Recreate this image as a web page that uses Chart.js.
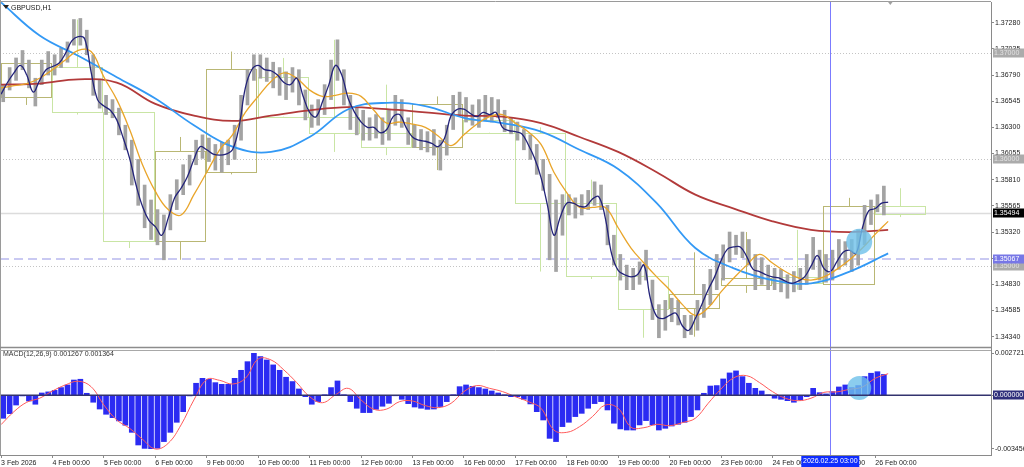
<!DOCTYPE html>
<html lang="en">
  <head>
    <meta charset="utf-8">
    <title>GBPUSD,H1</title>
    <style>
      html, body { margin: 0; padding: 0; background: #fff; }
      #wrap { width: 1024px; height: 467px; }
    </style>
  </head>
  <body>
    <div id="wrap">
      <canvas id="myChart" width="1024" height="467"></canvas>
    </div>

    <script src="https://cdn.jsdelivr.net/npm/chart.js"></script>

    <script>
      // trading-hour index: 0 = 3 Feb 00:00, 24 bars per day
      const dayLabels = ["3 Feb 2026", "4 Feb 00:00", "5 Feb 00:00", "6 Feb 00:00", "9 Feb 00:00", "10 Feb 00:00",
        "11 Feb 00:00", "12 Feb 00:00", "13 Feb 00:00", "16 Feb 00:00", "17 Feb 00:00", "18 Feb 00:00",
        "19 Feb 00:00", "20 Feb 00:00", "23 Feb 00:00", "24 Feb 00:00", "25 Feb 00:00", "26 Feb 00:00"];

      const priceTicks = [1.37280, 1.37035, 1.36790, 1.36545, 1.36300, 1.36055, 1.35810,
        1.35565, 1.35320, 1.35075, 1.34830, 1.34585, 1.34340];
      const macdTicks = [0.002721, 0, -0.003456];

      // price range of each 3-hour block
      const barHigh = [
        1.3670, 1.3686, 1.3695, 1.3702, 1.3693, 1.3676, 1.3693, 1.3701,
        1.3698, 1.3704, 1.3710, 1.3731, 1.3732, 1.3721, 1.3698, 1.3674,
        1.3660, 1.3656, 1.3648, 1.3632, 1.3618, 1.3600, 1.3576, 1.3562,
        1.3553, 1.3548, 1.3567, 1.3581, 1.3595, 1.3604, 1.3618, 1.3623,
        1.3620, 1.3614, 1.3616, 1.3618, 1.3632, 1.3660, 1.3684, 1.3698,
        1.3698, 1.3695, 1.3691, 1.3686, 1.3682, 1.3686, 1.3684, 1.3665,
        1.3651, 1.3656, 1.3670, 1.3693, 1.3712, 1.3684, 1.3660, 1.3648,
        1.3646, 1.3639, 1.3642, 1.3639, 1.3646, 1.3660, 1.3656, 1.3639,
        1.3632, 1.3628, 1.3626, 1.3628, 1.3618, 1.3632, 1.3660, 1.3663,
        1.3658, 1.3651, 1.3656, 1.3660, 1.3658, 1.3656, 1.3646, 1.3639,
        1.3635, 1.3628, 1.3623, 1.3614, 1.3600, 1.3586, 1.3562, 1.3567,
        1.3567, 1.3564, 1.3567, 1.3571, 1.3579, 1.3576, 1.3557, 1.3529,
        1.3511, 1.3501, 1.3498, 1.3504, 1.3515, 1.3487, 1.3464, 1.3468,
        1.3470, 1.3468, 1.3454, 1.3454, 1.3468, 1.3483, 1.3497, 1.3511,
        1.3520, 1.3532, 1.3529, 1.3532, 1.3525, 1.3511, 1.3508, 1.3501,
        1.3498, 1.3497, 1.3492, 1.3495, 1.3498, 1.3511, 1.3527, 1.3515,
        1.3511, 1.3515, 1.3525, 1.3523, 1.3525, 1.3534, 1.3557, 1.3562,
        1.3567, 1.3575
      ];
      const barLow = [
        1.3654, 1.3665, 1.3674, 1.3684, 1.3667, 1.3650, 1.3670, 1.3679,
        1.3679, 1.3686, 1.3691, 1.3707, 1.3707, 1.3698, 1.3660, 1.3648,
        1.3642, 1.3639, 1.3623, 1.3609, 1.3576, 1.3557, 1.3536, 1.3525,
        1.3520, 1.3506, 1.3534, 1.3553, 1.3567, 1.3576, 1.3595, 1.3601,
        1.3598, 1.3590, 1.3588, 1.3595, 1.3600, 1.3618, 1.3651, 1.3674,
        1.3676, 1.3673, 1.3667, 1.3660, 1.3656, 1.3663, 1.3651, 1.3637,
        1.3630, 1.3632, 1.3642, 1.3656, 1.3674, 1.3651, 1.3628, 1.3623,
        1.3618, 1.3618, 1.3620, 1.3614, 1.3618, 1.3632, 1.3630, 1.3614,
        1.3611, 1.3609, 1.3607, 1.3604, 1.3590, 1.3604, 1.3628, 1.3642,
        1.3635, 1.3632, 1.3630, 1.3637, 1.3635, 1.3639, 1.3626, 1.3624,
        1.3618, 1.3609, 1.3600, 1.3586, 1.3571, 1.3506, 1.3495, 1.3529,
        1.3548, 1.3545, 1.3548, 1.3553, 1.3557, 1.3553, 1.3520, 1.3501,
        1.3487, 1.3478, 1.3478, 1.3483, 1.3487, 1.3450, 1.3433, 1.3440,
        1.3448, 1.3445, 1.3433, 1.3436, 1.3440, 1.3452, 1.3464, 1.3478,
        1.3487, 1.3504, 1.3511, 1.3508, 1.3501, 1.3478, 1.3483, 1.3478,
        1.3478, 1.3476, 1.3470, 1.3476, 1.3478, 1.3483, 1.3497, 1.3487,
        1.3485, 1.3487, 1.3497, 1.3501, 1.3495, 1.3501, 1.3520, 1.3539,
        1.3551, 1.3548
      ];

      // fast MA, every 3 hours
      const fastMA = [
        1.3661, 1.3672, 1.3681, 1.3688, 1.3679, 1.3663, 1.3674, 1.3684,
        1.3687, 1.3690, 1.3699, 1.3711, 1.3715, 1.3713, 1.3682, 1.3656,
        1.3650, 1.3646, 1.3637, 1.3620, 1.3601, 1.3576, 1.3556, 1.3543,
        1.3537, 1.3529, 1.3545, 1.3564, 1.3573, 1.3584, 1.3600, 1.3612,
        1.3609, 1.3605, 1.3604, 1.3605, 1.3609, 1.3630, 1.3667, 1.3684,
        1.3688, 1.3684, 1.3683, 1.3679, 1.3672, 1.3670, 1.3676, 1.3659,
        1.3644, 1.3640, 1.3654, 1.3670, 1.3688, 1.3679, 1.3657, 1.3644,
        1.3635, 1.3630, 1.3630, 1.3625, 1.3628, 1.3640, 1.3642, 1.3630,
        1.3621, 1.3618, 1.3617, 1.3615, 1.3612, 1.3620, 1.3641, 1.3647,
        1.3647, 1.3643, 1.3640, 1.3644, 1.3642, 1.3644, 1.3630, 1.3627,
        1.3626, 1.3624, 1.3614, 1.3601, 1.3583, 1.3557, 1.3529, 1.3546,
        1.3559, 1.3559, 1.3556, 1.3556, 1.3563, 1.3565, 1.3545, 1.3511,
        1.3496, 1.3492, 1.3490, 1.3492, 1.3501, 1.3470, 1.3453, 1.3451,
        1.3454, 1.3456, 1.3444, 1.3440, 1.3451, 1.3464, 1.3478, 1.3490,
        1.3505, 1.3516, 1.3518, 1.3518, 1.3509, 1.3497, 1.3495, 1.3492,
        1.3490, 1.3489, 1.3486, 1.3484, 1.3486, 1.3490, 1.3500, 1.3510,
        1.3498, 1.3495, 1.3504, 1.3513, 1.3515, 1.3512, 1.3536, 1.3552,
        1.3554, 1.3559, 1.3560
      ];

      // orange MA, every 6 hours
      const midMA = [
        1.3667, 1.3669, 1.3671, 1.3676, 1.3684, 1.3693, 1.3702, 1.3701,
        1.3677, 1.3656, 1.3628, 1.3595, 1.3570, 1.3553, 1.3548, 1.3567,
        1.3588, 1.3609, 1.3623, 1.3644, 1.3659, 1.3673, 1.3681, 1.3676,
        1.3665, 1.3659, 1.3660, 1.3662, 1.3659, 1.3646, 1.3634, 1.3635,
        1.3633, 1.3630, 1.3622, 1.3613, 1.3623, 1.3633, 1.3640, 1.3642,
        1.3634, 1.3626, 1.3614, 1.3588, 1.3569, 1.3555, 1.3555, 1.3555,
        1.3536, 1.3517, 1.3503, 1.3490, 1.3478, 1.3464, 1.3454, 1.3461,
        1.3476, 1.3489, 1.3501, 1.3511, 1.3503, 1.3495, 1.3489, 1.3487,
        1.3490, 1.3497, 1.3506, 1.3517, 1.3530, 1.3542
      ];

      // slow MAs, every 18 hours
      const blueMA = [1.3747, 1.3716, 1.3697, 1.3677, 1.3657, 1.3632, 1.3612, 1.3607, 1.3621, 1.3647, 1.3653, 1.3650,
        1.3639, 1.3634, 1.3626, 1.3609, 1.3591, 1.3559, 1.3517, 1.3498, 1.3487, 1.3484, 1.3495, 1.3512];
      const redMA = [1.3670, 1.3671, 1.3675, 1.3672, 1.3652, 1.3641, 1.3636, 1.3641, 1.3646, 1.3649, 1.3647, 1.3644,
        1.3641, 1.3640, 1.3634, 1.3621, 1.3607, 1.3588, 1.3567, 1.3554, 1.3542, 1.3534, 1.3532, 1.3534];

      // MACD histogram, every 3 hours
      const macdHist = [
        -0.00149, -0.00119, -0.00063, -0.00004, -0.00037, -0.00058, 0.00015, 0.00022,
        0.00032, 0.00050, 0.00067, 0.00099, 0.00104, 0.00013, -0.00045, -0.00089,
        -0.00123, -0.00145, -0.00166, -0.00194, -0.00240, -0.00322, -0.00344, -0.00346,
        -0.00343, -0.00300, -0.00240, -0.00175, -0.00106, -0.00004, 0.00078, 0.00110,
        0.00104, 0.00082, 0.00071, 0.00071, 0.00110, 0.00162, 0.00218, 0.00272,
        0.00251, 0.00229, 0.00197, 0.00162, 0.00117, 0.00089, 0.00041, -0.00009,
        -0.00058, -0.00041, 0.00002, 0.00050, 0.00093, 0.00002, -0.00041, -0.00084,
        -0.00112, -0.00112, -0.00091, -0.00071, -0.00052, -0.00002, -0.00026, -0.00054,
        -0.00076, -0.00084, -0.00091, -0.00089, -0.00073, -0.00041, 0.00002, 0.00056,
        0.00067, 0.00058, 0.00050, 0.00041, 0.00028, 0.00015, 0.00002, -0.00009,
        -0.00009, -0.00026, -0.00056, -0.00106, -0.00160, -0.00279, -0.00300, -0.00203,
        -0.00175, -0.00138, -0.00117, -0.00084, -0.00054, -0.00041, -0.00095, -0.00181,
        -0.00218, -0.00225, -0.00225, -0.00192, -0.00164, -0.00192, -0.00225, -0.00214,
        -0.00199, -0.00188, -0.00175, -0.00138, -0.00095, 0.00013, 0.00060, 0.00063,
        0.00106, 0.00145, 0.00158, 0.00121, 0.00078, 0.00045, 0.00028, 0.00002,
        -0.00019, -0.00026, -0.00035, -0.00045, -0.00030, -0.00009, 0.00045, 0.00017,
        0.00009, 0.00024, 0.00054, 0.00067, 0.00050, 0.00063, 0.00121, 0.00143,
        0.00153, 0.00135
      ];
      // MACD signal, every 6 hours
      const macdSignal = [
        -0.00190, -0.00106, -0.00045, -0.00019, 0.00028, 0.00067, 0.00091, 0.00056,
        -0.00063, -0.00160, -0.00214, -0.00285, -0.00348, -0.00311, -0.00192, -0.00030,
        0.00102, 0.00097, 0.00073, 0.00110, 0.00235, 0.00229, 0.00164, 0.00082,
        -0.00009, -0.00048, 0.00002, 0.00045, -0.00030, -0.00091, -0.00089, -0.00041,
        -0.00037, -0.00067, -0.00080, -0.00052, 0.00024, 0.00063, 0.00045, 0.00024,
        -0.00009, -0.00041, -0.00084, -0.00225, -0.00240, -0.00203, -0.00138, -0.00063,
        -0.00084, -0.00207, -0.00210, -0.00188, -0.00197, -0.00177, -0.00149, -0.00052,
        0.00041, 0.00114, 0.00127, 0.00082, 0.00024, -0.00019, -0.00035, -0.00019,
        0.00019, 0.00022, 0.00039, 0.00054, 0.00110, 0.00140
      ];
      const macdMainNow = 0.001267;
      const macdSignalNow = 0.001364;

      // daily candles drawn as boxes
      const dayOpen = [1.3658, 1.3687, 1.3644, 1.3524, 1.3588, 1.3677, 1.3640, 1.3625, 1.3612,
        1.3637, 1.3625, 1.3559, 1.3491, 1.3461, 1.3482, 1.3490, 1.3483, 1.3556];
      const dayClose = [1.3690, 1.3644, 1.3524, 1.3608, 1.3685, 1.3640, 1.3625, 1.3612, 1.3652,
        1.3625, 1.3559, 1.3491, 1.3460, 1.3474, 1.3489, 1.3484, 1.3556, 1.3549];
      const dayHigh = [1.3690, 1.3731, 1.3644, 1.3621, 1.3701, 1.3695, 1.3712, 1.3670, 1.3659,
        1.3637, 1.3630, 1.3581, 1.3491, 1.3513, 1.3532, 1.3534, 1.3564, 1.3573];
      const dayLow = [1.3651, 1.3642, 1.3517, 1.3506, 1.3586, 1.3640, 1.3607, 1.3604, 1.3590,
        1.3625, 1.3495, 1.3488, 1.3433, 1.3434, 1.3475, 1.3478, 1.3483, 1.3546];

      const roundLevels = [1.37, 1.36, 1.35];
      const lastPrice = 1.35494;
      const alertLevel = 1.35067;
      const cursorHour = 387;
      const cursorLabel = "2026.02.25 03:00";
      const shiftHour = 415;
      const highlight = { hour: 400.5, price: 1.3523, macd: 0.00047 };

      const FONT = { family: "Liberation Sans", size: 7 };

      const xyEvery = (arr, step, off) => arr.map((v, i) => ({ x: i * step + off, y: v }));
      const noPad = (w) => (s) => {
        if (w) s.width = w; else s.height = 12;
        s.paddingTop = 0; s.paddingBottom = 0; s.paddingLeft = 0; s.paddingRight = 0;
      };

      const mt4Plugin = {
        id: "mt4",
        beforeDatasetsDraw(chart) {
          const { ctx, scales: { x, y } } = chart;
          ctx.save();
          ctx.beginPath();
          ctx.rect(x.left, y.top, x.right - x.left, y.bottom - y.top);
          ctx.clip();
          // round price levels
          ctx.strokeStyle = "#c4c4c4";
          ctx.lineWidth = 1;
          ctx.setLineDash([1, 2]);
          roundLevels.forEach((v) => {
            const py = Math.round(y.getPixelForValue(v)) + 0.5;
            ctx.beginPath(); ctx.moveTo(x.left, py); ctx.lineTo(x.right, py); ctx.stroke();
          });
          // last price line
          ctx.setLineDash([]);
          ctx.strokeStyle = "#dcdcdc";
          ctx.lineWidth = 1.5;
          let py = y.getPixelForValue(lastPrice);
          ctx.beginPath(); ctx.moveTo(x.left, py); ctx.lineTo(x.right, py); ctx.stroke();
          // alert line
          ctx.strokeStyle = "#c9c9f2";
          ctx.lineWidth = 2;
          ctx.setLineDash([9, 5]);
          py = y.getPixelForValue(alertLevel);
          ctx.beginPath(); ctx.moveTo(x.left, py); ctx.lineTo(x.right, py); ctx.stroke();
          ctx.setLineDash([]);
          // daily boxes
          ctx.lineWidth = 1;
          dayOpen.forEach((o, d) => {
            const c = dayClose[d];
            ctx.strokeStyle = c >= o ? "#b9b774" : "#c9e5a4";
            const x0 = Math.round(x.getPixelForValue(d * 24 - 0.2)) + 0.5;
            const x1 = Math.round(x.getPixelForValue(d * 24 + 23.2)) + 0.5;
            const xm = Math.round(x.getPixelForValue(d * 24 + 11.5)) + 0.5;
            const top = Math.round(y.getPixelForValue(Math.max(o, c))) + 0.5;
            const bot = Math.round(y.getPixelForValue(Math.min(o, c))) + 0.5;
            ctx.strokeRect(x0, top, x1 - x0, bot - top);
            ctx.beginPath();
            ctx.moveTo(xm, y.getPixelForValue(dayHigh[d])); ctx.lineTo(xm, top);
            ctx.moveTo(xm, bot); ctx.lineTo(xm, y.getPixelForValue(dayLow[d]));
            ctx.stroke();
          });
          ctx.restore();
        },
        afterDatasetsDraw(chart) {
          const { ctx, chartArea: ca, scales: { x, m } } = chart;
          ctx.save();
          // MACD zero line
          const zy = m.getPixelForValue(0);
          ctx.strokeStyle = "#33336e";
          ctx.lineWidth = 1.5;
          ctx.beginPath(); ctx.moveTo(x.left, zy); ctx.lineTo(x.right, zy); ctx.stroke();
          // crosshair time line
          const cx = Math.round(x.getPixelForValue(cursorHour)) + 0.5;
          ctx.strokeStyle = "#7b7bff";
          ctx.lineWidth = 1;
          ctx.beginPath(); ctx.moveTo(cx, ca.top); ctx.lineTo(cx, ca.bottom); ctx.stroke();
          ctx.restore();
        },
        afterDraw(chart) {
          const { ctx, chartArea: ca, scales: { x, y, m } } = chart;
          ctx.save();
          // frame and pane separator
          ctx.strokeStyle = "#9a9a9a";
          ctx.lineWidth = 1;
          ctx.beginPath();
          ctx.moveTo(0, 1.5); ctx.lineTo(ca.right, 1.5);
          ctx.moveTo(0.5, 0); ctx.lineTo(0.5, ca.bottom);
          ctx.stroke();
          ctx.strokeStyle = "#8c8c8c";
          ctx.lineWidth = 1.5;
          ctx.beginPath(); ctx.moveTo(0, y.bottom - 0.5); ctx.lineTo(ca.right, y.bottom - 0.5); ctx.stroke();
          ctx.strokeStyle = "#a8a8a8";
          ctx.lineWidth = 1;
          ctx.beginPath(); ctx.moveTo(0, y.bottom + 2.5); ctx.lineTo(ca.right, y.bottom + 2.5); ctx.stroke();

          // axis price tags
          ctx.font = "7px 'Liberation Sans'";
          ctx.textBaseline = "middle";
          ctx.textAlign = "left";
          const tag = (scale, v, bg, fg, txt) => {
            const py = Math.round(scale.getPixelForValue(v));
            ctx.fillStyle = bg;
            ctx.fillRect(ca.right + 2, py - 4.5, 33, 9);
            ctx.fillStyle = fg;
            ctx.fillText(txt, ca.right + 3, py + 0.5);
          };
          roundLevels.forEach((v) => tag(y, v, "#ababab", "#e2e2e2", v.toFixed(5)));
          tag(y, lastPrice, "#000000", "#ffffff", lastPrice.toFixed(5));
          tag(y, alertLevel, "#7777e6", "#ffffff", alertLevel.toFixed(5));
          tag(m, 0, "#2f2f7c", "#ffffff", (0).toFixed(6));

          // window captions
          ctx.fillStyle = "#222";
          ctx.fillText("GBPUSD,H1", 11, 8);
          ctx.beginPath(); ctx.moveTo(3, 5); ctx.lineTo(9, 5); ctx.lineTo(6, 9); ctx.closePath(); ctx.fill();
          ctx.fillStyle = "#333";
          ctx.fillText("MACD(12,26,9) " + macdMainNow.toFixed(6) + " " + macdSignalNow.toFixed(6), 3, m.top + 6);

          // crosshair time label
          const cx = x.getPixelForValue(cursorHour);
          ctx.fillStyle = "#0f2dff";
          ctx.fillRect(cx - 29, ca.bottom + 1, 58, 11);
          ctx.fillStyle = "#ffffff";
          ctx.textAlign = "center";
          ctx.fillText(cursorLabel, cx, ca.bottom + 6.5);

          // chart shift marker
          const sx = x.getPixelForValue(shiftHour);
          ctx.fillStyle = "#a0a0a0";
          ctx.beginPath(); ctx.moveTo(sx - 3, 1); ctx.lineTo(sx + 3, 1); ctx.lineTo(sx, 5); ctx.closePath(); ctx.fill();
          ctx.restore();
        }
      };

      const ctx = document.getElementById("myChart");
      new Chart(ctx, {
        type: "bar",
        data: {
          datasets: [
            {
              type: "scatter", label: "mark", yAxisID: "y",
              data: [{ x: highlight.hour, y: highlight.price }],
              pointRadius: 13, backgroundColor: "rgba(110,192,234,0.8)", borderWidth: 0, order: 0,
            },
            {
              type: "scatter", label: "mark2", yAxisID: "m",
              data: [{ x: highlight.hour, y: highlight.macd }],
              pointRadius: 12, backgroundColor: "rgba(110,192,234,0.8)", borderWidth: 0, order: 0,
            },
            {
              type: "line", label: "fast", yAxisID: "y", data: xyEvery(fastMA, 3, 0),
              borderColor: "#23237a", borderWidth: 1.3, pointRadius: 0, tension: 0.4, order: 2,
            },
            {
              type: "line", label: "mid", yAxisID: "y", data: xyEvery(midMA, 6, 0),
              borderColor: "#e9a52a", borderWidth: 1.3, pointRadius: 0, tension: 0.4, order: 3,
            },
            {
              type: "line", label: "blue", yAxisID: "y", data: xyEvery(blueMA, 18, 0),
              borderColor: "#3399f5", borderWidth: 1.8, pointRadius: 0, tension: 0.4, order: 4,
            },
            {
              type: "line", label: "red", yAxisID: "y", data: xyEvery(redMA, 18, 0),
              borderColor: "#b23a3a", borderWidth: 1.8, pointRadius: 0, tension: 0.4, order: 5,
            },
            {
              type: "bar", label: "GBPUSD", yAxisID: "y",
              data: barHigh.map((hi, k) => ({ x: k * 3 + 1, y: [barLow[k], hi] })),
              backgroundColor: "#a3a3a3", borderWidth: 0, borderSkipped: false,
              barThickness: 3, grouped: false, order: 10,
            },
            {
              type: "line", label: "signal", yAxisID: "m", data: xyEvery(macdSignal, 6, 0),
              borderColor: "#ff5a5a", borderWidth: 1, pointRadius: 0, tension: 0.4, order: 2,
            },
            {
              type: "bar", label: "MACD", yAxisID: "m",
              data: macdHist.map((v, k) => ({ x: k * 3 + 1, y: v })),
              backgroundColor: "#2b2bf2", barThickness: 5, grouped: false, order: 10,
            },
          ],
        },
        options: {
          responsive: false,
          animation: false,
          devicePixelRatio: 1,
          events: [],
          layout: { autoPadding: false, padding: { top: 2, left: 0, right: 0, bottom: 0 } },
          plugins: { legend: { display: false }, tooltip: { enabled: false } },
          scales: {
            x: {
              type: "linear", min: -0.5, max: 462, offset: false,
              afterBuildTicks: (s) => { s.ticks = dayLabels.map((_, i) => ({ value: i * 24 })); },
              ticks: {
                autoSkip: false, maxRotation: 0, align: "start", padding: 1,
                font: FONT, color: "#222",
                callback: (v, i) => dayLabels[i],
              },
              grid: { offset: false, drawOnChartArea: false, drawTicks: true, tickLength: 3, color: "#8a8a8a" },
              border: { color: "#8a8a8a" },
              afterFit: noPad(0),
            },
            y: {
              type: "linear", position: "right", stack: "panes", stackWeight: 346,
              min: 1.34234, max: 1.37474,
              afterBuildTicks: (s) => { s.ticks = priceTicks.map((v) => ({ value: v })); },
              ticks: { autoSkip: false, padding: 1, font: FONT, color: "#222", callback: (v) => v.toFixed(5) },
              grid: { drawOnChartArea: false, drawTicks: true, tickLength: 3, color: "#8a8a8a" },
              border: { color: "#8a8a8a" },
              afterFit: noPad(33),
            },
            m: {
              type: "linear", position: "right", stack: "panes", stackWeight: 107,
              min: -0.003869, max: 0.003065,
              afterBuildTicks: (s) => { s.ticks = macdTicks.map((v) => ({ value: v })); },
              ticks: { autoSkip: false, padding: 1, font: FONT, color: "#222", callback: (v) => v.toFixed(6) },
              grid: { drawOnChartArea: false, drawTicks: true, tickLength: 3, color: "#8a8a8a" },
              border: { color: "#8a8a8a" },
              afterFit: noPad(33),
            },
          },
        },
        plugins: [mt4Plugin],
      });
    </script>
  </body>
</html>
